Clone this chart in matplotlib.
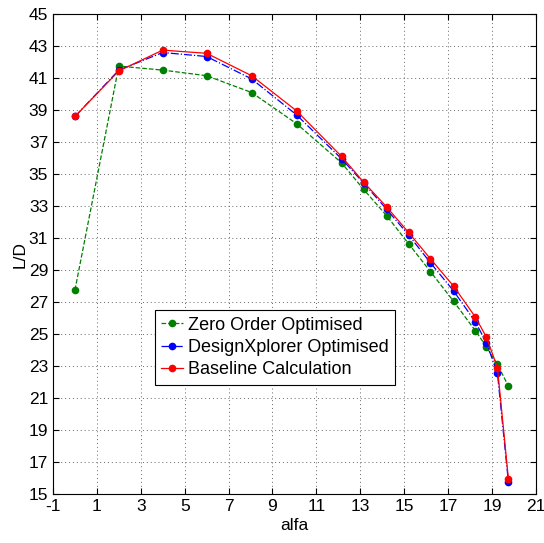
import matplotlib
matplotlib.use("Agg")
import matplotlib.pyplot as plt

alfa = [0, 2, 4, 6, 8.05, 10.1, 12.15, 13.15, 14.2, 15.2, 16.2, 17.25, 18.25, 18.75, 19.25, 19.75]
zero_order = [27.75, 41.75, 41.5, 41.15, 40.1, 38.15, 35.7, 34.05, 32.4, 30.65, 28.9, 27.05, 25.2, 24.2, 23.1, 21.75]
design_xplorer = [38.6, 41.5, 42.6, 42.35, 40.95, 38.7, 35.95, 34.45, 32.8, 31.2, 29.45, 27.7, 25.75, 24.45, 22.55, 15.75]
baseline = [38.6, 41.45, 42.75, 42.55, 41.15, 38.95, 36.1, 34.5, 32.95, 31.35, 29.7, 28.0, 26.05, 24.8, 22.9, 15.95]
labels = ["Zero Order Optimised", "DesignXplorer Optimised", "Baseline Calculation"]
xticks = list(range(-1, 22, 2))
yticks = list(range(15, 46, 2))

plt.rcParams['font.family'] = ['Liberation Sans', 'DejaVu Sans']
plt.rcParams['axes.unicode_minus'] = False
fig = plt.figure(figsize=(5.44, 5.43), dpi=100)
ax = fig.add_axes([0.0974, 0.0902, 0.8876, 0.8838])

ax.plot(alfa, zero_order, color='#008000', linestyle='--', linewidth=0.9,
        marker='o', markersize=4.5, label=labels[0])
ax.plot(alfa, design_xplorer, color='#0000ff', linestyle='-.', linewidth=0.9,
        marker='o', markersize=4.5, label=labels[1])
ax.plot(alfa, baseline, color='#ff0000', linestyle='-', linewidth=0.9,
        marker='o', markersize=4.5, label=labels[2])

ax.set_xlim(-1, 21)
ax.set_ylim(15, 45)
ax.set_xticks(xticks)
ax.set_yticks(yticks)
ax.tick_params(direction='in', top=True, right=True, labelsize=12.5, length=4, width=0.8)
ax.grid(True, linestyle=(0, (1, 3)), color='#666666', linewidth=0.7)
for s in ax.spines.values():
    s.set_linewidth(0.8)
ax.set_xlabel("alfa", fontsize=12.5, labelpad=3)
ax.set_ylabel("L/D", fontsize=12.5, labelpad=1)

leg = ax.legend(loc='upper left', bbox_to_anchor=(0.211, 0.383), borderaxespad=0,
                fontsize=13, fancybox=False, edgecolor='black', framealpha=1,
                handlelength=1.2, borderpad=0.35, labelspacing=0.3, handletextpad=0.3)
leg.get_frame().set_linewidth(0.8)

fig.savefig("out.png", dpi=100)
